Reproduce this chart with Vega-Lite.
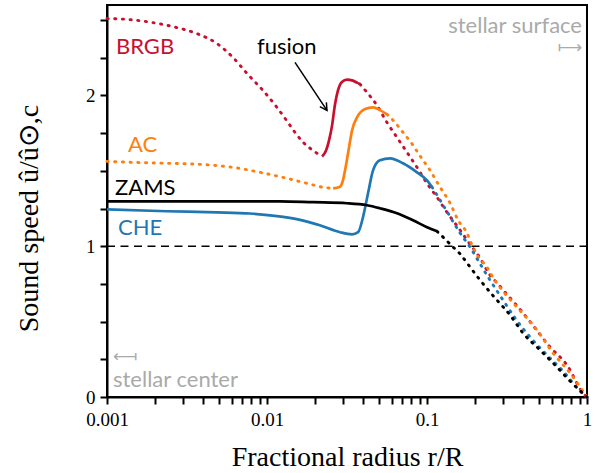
{
  "$schema": "https://vega.github.io/schema/vega-lite/v6.json",
  "width": 480,
  "height": 392,
  "autosize": {"type": "none"},
  "padding": {"left": 107, "top": 5, "right": 8, "bottom": 76},
  "background": "white",
  "config": {
    "view": {"stroke": "black", "strokeWidth": 2}
  },
  "datasets": {
    "curves": [
      {"series": "BRGB", "seg": "BRGB1", "part": "B", "x": 0.001, "y": 2.51},
      {"series": "BRGB", "seg": "BRGB1", "part": "B", "x": 0.00139, "y": 2.503},
      {"series": "BRGB", "seg": "BRGB1", "part": "B", "x": 0.00194, "y": 2.483},
      {"series": "BRGB", "seg": "BRGB1", "part": "B", "x": 0.00274, "y": 2.45},
      {"series": "BRGB", "seg": "BRGB1", "part": "B", "x": 0.00365, "y": 2.41},
      {"series": "BRGB", "seg": "BRGB1", "part": "B", "x": 0.00487, "y": 2.344},
      {"series": "BRGB", "seg": "BRGB1", "part": "B", "x": 0.00613, "y": 2.252},
      {"series": "BRGB", "seg": "BRGB1", "part": "B", "x": 0.0075, "y": 2.146},
      {"series": "BRGB", "seg": "BRGB1", "part": "B", "x": 0.00944, "y": 2.033},
      {"series": "BRGB", "seg": "BRGB1", "part": "B", "x": 0.01155, "y": 1.92},
      {"series": "BRGB", "seg": "BRGB1", "part": "B", "x": 0.01334, "y": 1.83},
      {"series": "BRGB", "seg": "BRGB1", "part": "B", "x": 0.01496, "y": 1.755},
      {"series": "BRGB", "seg": "BRGB1", "part": "B", "x": 0.0168, "y": 1.69},
      {"series": "BRGB", "seg": "BRGB1", "part": "B", "x": 0.0191, "y": 1.64},
      {"series": "BRGB", "seg": "BRGB1", "part": "B", "x": 0.0221, "y": 1.595},
      {"series": "BRGB", "seg": "BRGB2", "part": "A", "x": 0.0221, "y": 1.595},
      {"series": "BRGB", "seg": "BRGB2", "part": "A", "x": 0.0234, "y": 1.635},
      {"series": "BRGB", "seg": "BRGB2", "part": "A", "x": 0.0244, "y": 1.7},
      {"series": "BRGB", "seg": "BRGB2", "part": "A", "x": 0.0255, "y": 1.8},
      {"series": "BRGB", "seg": "BRGB2", "part": "A", "x": 0.0266, "y": 1.94},
      {"series": "BRGB", "seg": "BRGB2", "part": "A", "x": 0.0278, "y": 2.035},
      {"series": "BRGB", "seg": "BRGB2", "part": "A", "x": 0.0294, "y": 2.09},
      {"series": "BRGB", "seg": "BRGB2", "part": "A", "x": 0.0316, "y": 2.105},
      {"series": "BRGB", "seg": "BRGB2", "part": "A", "x": 0.034, "y": 2.1},
      {"series": "BRGB", "seg": "BRGB2", "part": "A", "x": 0.0365, "y": 2.085},
      {"series": "BRGB", "seg": "BRGB2", "part": "A", "x": 0.0381, "y": 2.075},
      {"series": "BRGB", "seg": "BRGB3", "part": "B", "x": 0.0381, "y": 2.075},
      {"series": "BRGB", "seg": "BRGB3", "part": "B", "x": 0.0422, "y": 2.02},
      {"series": "BRGB", "seg": "BRGB3", "part": "B", "x": 0.0487, "y": 1.934},
      {"series": "BRGB", "seg": "BRGB3", "part": "B", "x": 0.0562, "y": 1.821},
      {"series": "BRGB", "seg": "BRGB3", "part": "B", "x": 0.0649, "y": 1.722},
      {"series": "BRGB", "seg": "BRGB3", "part": "B", "x": 0.075, "y": 1.623},
      {"series": "BRGB", "seg": "BRGB3", "part": "B", "x": 0.0866, "y": 1.523},
      {"series": "BRGB", "seg": "BRGB3", "part": "B", "x": 0.1, "y": 1.417},
      {"series": "BRGB", "seg": "BRGB3", "part": "B", "x": 0.1155, "y": 1.325},
      {"series": "BRGB", "seg": "BRGB3", "part": "B", "x": 0.1334, "y": 1.225},
      {"series": "BRGB", "seg": "BRGB3", "part": "B", "x": 0.1608, "y": 1.108},
      {"series": "BRGB", "seg": "BRGB3", "part": "B", "x": 0.1778, "y": 1.041},
      {"series": "BRGB", "seg": "BRGB3", "part": "B", "x": 0.2144, "y": 0.922},
      {"series": "BRGB", "seg": "BRGB3", "part": "B", "x": 0.2475, "y": 0.809},
      {"series": "BRGB", "seg": "BRGB3", "part": "B", "x": 0.2779, "y": 0.75},
      {"series": "BRGB", "seg": "BRGB3", "part": "B", "x": 0.3162, "y": 0.68},
      {"series": "BRGB", "seg": "BRGB3", "part": "B", "x": 0.3652, "y": 0.605},
      {"series": "BRGB", "seg": "BRGB3", "part": "B", "x": 0.4403, "y": 0.5},
      {"series": "BRGB", "seg": "BRGB3", "part": "B", "x": 0.5872, "y": 0.332},
      {"series": "BRGB", "seg": "BRGB3", "part": "B", "x": 0.7499, "y": 0.212},
      {"series": "BRGB", "seg": "BRGB3", "part": "B", "x": 0.9441, "y": 0.027},
      {"series": "BRGB", "seg": "BRGB3", "part": "B", "x": 1, "y": 0},

      {"series": "AC", "seg": "AC1", "part": "B", "x": 0.001, "y": 1.563},
      {"series": "AC", "seg": "AC1", "part": "B", "x": 0.001454, "y": 1.556},
      {"series": "AC", "seg": "AC1", "part": "B", "x": 0.00237, "y": 1.55},
      {"series": "AC", "seg": "AC1", "part": "B", "x": 0.00381, "y": 1.543},
      {"series": "AC", "seg": "AC1", "part": "B", "x": 0.00613, "y": 1.523},
      {"series": "AC", "seg": "AC1", "part": "B", "x": 0.00904, "y": 1.49},
      {"series": "AC", "seg": "AC1", "part": "B", "x": 0.01334, "y": 1.45},
      {"series": "AC", "seg": "AC1", "part": "B", "x": 0.0178, "y": 1.417},
      {"series": "AC", "seg": "AC1", "part": "B", "x": 0.0224, "y": 1.391},
      {"series": "AC", "seg": "AC1", "part": "B", "x": 0.0259, "y": 1.384},
      {"series": "AC", "seg": "AC2", "part": "A", "x": 0.0259, "y": 1.384},
      {"series": "AC", "seg": "AC2", "part": "A", "x": 0.0286, "y": 1.395},
      {"series": "AC", "seg": "AC2", "part": "A", "x": 0.0297, "y": 1.43},
      {"series": "AC", "seg": "AC2", "part": "A", "x": 0.0307, "y": 1.5},
      {"series": "AC", "seg": "AC2", "part": "A", "x": 0.0321, "y": 1.616},
      {"series": "AC", "seg": "AC2", "part": "A", "x": 0.034, "y": 1.768},
      {"series": "AC", "seg": "AC2", "part": "A", "x": 0.0365, "y": 1.854},
      {"series": "AC", "seg": "AC2", "part": "A", "x": 0.041, "y": 1.91},
      {"series": "AC", "seg": "AC2", "part": "A", "x": 0.046, "y": 1.921},
      {"series": "AC", "seg": "AC2", "part": "A", "x": 0.0508, "y": 1.903},
      {"series": "AC", "seg": "AC2", "part": "A", "x": 0.0562, "y": 1.875},
      {"series": "AC", "seg": "AC3", "part": "B", "x": 0.0562, "y": 1.875},
      {"series": "AC", "seg": "AC3", "part": "B", "x": 0.0631, "y": 1.821},
      {"series": "AC", "seg": "AC3", "part": "B", "x": 0.0708, "y": 1.755},
      {"series": "AC", "seg": "AC3", "part": "B", "x": 0.0818, "y": 1.67},
      {"series": "AC", "seg": "AC3", "part": "B", "x": 0.0904, "y": 1.6},
      {"series": "AC", "seg": "AC3", "part": "B", "x": 0.1045, "y": 1.503},
      {"series": "AC", "seg": "AC3", "part": "B", "x": 0.1206, "y": 1.393},
      {"series": "AC", "seg": "AC3", "part": "B", "x": 0.1392, "y": 1.287},
      {"series": "AC", "seg": "AC3", "part": "B", "x": 0.1562, "y": 1.174},
      {"series": "AC", "seg": "AC3", "part": "B", "x": 0.1778, "y": 1.088},
      {"series": "AC", "seg": "AC3", "part": "B", "x": 0.1911, "y": 1.008},
      {"series": "AC", "seg": "AC3", "part": "B", "x": 0.2054, "y": 0.942},
      {"series": "AC", "seg": "AC3", "part": "B", "x": 0.2371, "y": 0.862},
      {"series": "AC", "seg": "AC3", "part": "B", "x": 0.2622, "y": 0.782},
      {"series": "AC", "seg": "AC3", "part": "B", "x": 0.2943, "y": 0.71},
      {"series": "AC", "seg": "AC3", "part": "B", "x": 0.3548, "y": 0.61},
      {"series": "AC", "seg": "AC3", "part": "B", "x": 0.487, "y": 0.444},
      {"series": "AC", "seg": "AC3", "part": "B", "x": 0.6131, "y": 0.292},
      {"series": "AC", "seg": "AC3", "part": "B", "x": 0.783, "y": 0.159},
      {"series": "AC", "seg": "AC3", "part": "B", "x": 1, "y": 0},

      {"series": "CHE", "seg": "CHE1", "part": "A", "x": 0.001, "y": 1.245},
      {"series": "CHE", "seg": "CHE1", "part": "A", "x": 0.00237, "y": 1.232},
      {"series": "CHE", "seg": "CHE1", "part": "A", "x": 0.00487, "y": 1.225},
      {"series": "CHE", "seg": "CHE1", "part": "A", "x": 0.00783, "y": 1.217},
      {"series": "CHE", "seg": "CHE1", "part": "A", "x": 0.0126, "y": 1.195},
      {"series": "CHE", "seg": "CHE1", "part": "A", "x": 0.0161, "y": 1.175},
      {"series": "CHE", "seg": "CHE1", "part": "A", "x": 0.0214, "y": 1.139},
      {"series": "CHE", "seg": "CHE1", "part": "A", "x": 0.0286, "y": 1.093},
      {"series": "CHE", "seg": "CHE1", "part": "A", "x": 0.034, "y": 1.079},
      {"series": "CHE", "seg": "CHE1", "part": "A", "x": 0.0371, "y": 1.093},
      {"series": "CHE", "seg": "CHE1", "part": "A", "x": 0.0398, "y": 1.192},
      {"series": "CHE", "seg": "CHE1", "part": "A", "x": 0.0428, "y": 1.351},
      {"series": "CHE", "seg": "CHE1", "part": "A", "x": 0.046, "y": 1.503},
      {"series": "CHE", "seg": "CHE1", "part": "A", "x": 0.0508, "y": 1.57},
      {"series": "CHE", "seg": "CHE1", "part": "A", "x": 0.0588, "y": 1.583},
      {"series": "CHE", "seg": "CHE1", "part": "A", "x": 0.0708, "y": 1.55},
      {"series": "CHE", "seg": "CHE1", "part": "A", "x": 0.0866, "y": 1.49},
      {"series": "CHE", "seg": "CHE1", "part": "A", "x": 0.1, "y": 1.437},
      {"series": "CHE", "seg": "CHE1", "part": "A", "x": 0.1075, "y": 1.393},
      {"series": "CHE", "seg": "CHE2", "part": "B", "x": 0.1075, "y": 1.393},
      {"series": "CHE", "seg": "CHE2", "part": "B", "x": 0.1352, "y": 1.22},
      {"series": "CHE", "seg": "CHE2", "part": "B", "x": 0.1608, "y": 1.088},
      {"series": "CHE", "seg": "CHE2", "part": "B", "x": 0.1857, "y": 0.995},
      {"series": "CHE", "seg": "CHE2", "part": "B", "x": 0.2207, "y": 0.862},
      {"series": "CHE", "seg": "CHE2", "part": "B", "x": 0.2475, "y": 0.776},
      {"series": "CHE", "seg": "CHE2", "part": "B", "x": 0.2985, "y": 0.643},
      {"series": "CHE", "seg": "CHE2", "part": "B", "x": 0.3548, "y": 0.524},
      {"series": "CHE", "seg": "CHE2", "part": "B", "x": 0.4403, "y": 0.398},
      {"series": "CHE", "seg": "CHE2", "part": "B", "x": 0.5623, "y": 0.279},
      {"series": "CHE", "seg": "CHE2", "part": "B", "x": 0.7079, "y": 0.172},
      {"series": "CHE", "seg": "CHE2", "part": "B", "x": 0.9306, "y": 0.027},
      {"series": "CHE", "seg": "CHE2", "part": "B", "x": 1, "y": 0},

      {"series": "ZAMS", "seg": "ZAMS1", "part": "A", "x": 0.001, "y": 1.298},
      {"series": "ZAMS", "seg": "ZAMS1", "part": "A", "x": 0.01205, "y": 1.298},
      {"series": "ZAMS", "seg": "ZAMS1", "part": "A", "x": 0.0194, "y": 1.292},
      {"series": "ZAMS", "seg": "ZAMS1", "part": "A", "x": 0.0316, "y": 1.285},
      {"series": "ZAMS", "seg": "ZAMS1", "part": "A", "x": 0.0422, "y": 1.272},
      {"series": "ZAMS", "seg": "ZAMS1", "part": "A", "x": 0.0508, "y": 1.252},
      {"series": "ZAMS", "seg": "ZAMS1", "part": "A", "x": 0.0649, "y": 1.219},
      {"series": "ZAMS", "seg": "ZAMS1", "part": "A", "x": 0.0818, "y": 1.172},
      {"series": "ZAMS", "seg": "ZAMS1", "part": "A", "x": 0.1, "y": 1.126},
      {"series": "ZAMS", "seg": "ZAMS1", "part": "A", "x": 0.1155, "y": 1.099},
      {"series": "ZAMS", "seg": "ZAMS2", "part": "B", "x": 0.1155, "y": 1.099},
      {"series": "ZAMS", "seg": "ZAMS2", "part": "B", "x": 0.1259, "y": 1.061},
      {"series": "ZAMS", "seg": "ZAMS2", "part": "B", "x": 0.1454, "y": 0.995},
      {"series": "ZAMS", "seg": "ZAMS2", "part": "B", "x": 0.1608, "y": 0.95},
      {"series": "ZAMS", "seg": "ZAMS2", "part": "B", "x": 0.1778, "y": 0.889},
      {"series": "ZAMS", "seg": "ZAMS2", "part": "B", "x": 0.2144, "y": 0.776},
      {"series": "ZAMS", "seg": "ZAMS2", "part": "B", "x": 0.2661, "y": 0.657},
      {"series": "ZAMS", "seg": "ZAMS2", "part": "B", "x": 0.3302, "y": 0.544},
      {"series": "ZAMS", "seg": "ZAMS2", "part": "B", "x": 0.3981, "y": 0.424},
      {"series": "ZAMS", "seg": "ZAMS2", "part": "B", "x": 0.5083, "y": 0.312},
      {"series": "ZAMS", "seg": "ZAMS2", "part": "B", "x": 0.631, "y": 0.212},
      {"series": "ZAMS", "seg": "ZAMS2", "part": "B", "x": 0.783, "y": 0.106},
      {"series": "ZAMS", "seg": "ZAMS2", "part": "B", "x": 1, "y": 0}
    ],
    "labels": [
      {"x": 0.001138, "y": 2.278, "label": "BRGB", "series": "BRGB"},
      {"x": 0.001353, "y": 1.625, "label": "AC", "series": "AC"},
      {"x": 0.001122, "y": 1.34, "label": "ZAMS", "series": "ZAMS"},
      {"x": 0.001172, "y": 1.074, "label": "CHE", "series": "CHE"},
      {"x": 0.00866, "y": 2.275, "label": "fusion", "series": "note"},
      {"x": 0.00109, "y": 0.066, "label": "stellar center", "series": "hint"}
    ],
    "rightlabels": [
      {"x": 0.9306, "y": 2.414, "label": "stellar surface", "series": "hint"}
    ],
    "arrowsR": [
      {"x": 0.9306, "y": 2.315, "label": "⟼", "series": "hint"}
    ],
    "arrowsL": [
      {"x": 0.00109, "y": 0.262, "label": "⟻", "series": "hint"}
    ],
    "pointer": [
      {"x": 0.01496, "y": 2.219, "x2": 0.0237, "y2": 1.901, "series": "note"}
    ],
    "pointerTip": [
      {"x": 0.0237, "y": 1.901, "series": "note"}
    ],
    "unity": [
      {"x": 0.001, "x2": 1, "y": 1, "series": "note"}
    ]
  },
  "encoding": {
    "x": {
      "field": "x", "type": "quantitative",
      "scale": {"type": "log", "domain": [0.001, 1], "nice": false},
      "axis": {
        "title": "Fractional radius r/R",
        "values": [0.001,0.002,0.003,0.004,0.005,0.006,0.007,0.008,0.009,0.01,0.02,0.03,0.04,0.05,0.06,0.07,0.08,0.09,0.1,0.2,0.3,0.4,0.5,0.6,0.7,0.8,0.9,1],
        "format": "~g",
        "labelExpr": "(datum.value==0.001||datum.value==0.01||datum.value==0.1||datum.value==1)?datum.label:''",
        "tickSize": 7,
        "tickWidth": 2,
        "tickColor": "#000000",
        "grid": false,
        "domainColor": "black", "domainWidth": 2,
        "labelFont": "Liberation Serif", "labelFontSize": 19, "labelColor": "black",
        "labelPadding": 6, "labelOverlap": false, "labelFlush": false,
        "titleFont": "Liberation Serif", "titleFontSize": 28, "titleFontWeight": "normal", "titleColor": "black",
        "titlePadding": 14
      }
    },
    "y": {
      "field": "y", "type": "quantitative",
      "scale": {"domain": [0, 2.6], "nice": false, "zero": false},
      "axis": {
        "title": "Sound speed û/û⊙,c",
        "values": [0,0.25,0.5,0.75,1,1.25,1.5,1.75,2,2.25,2.5],
        "format": "~g",
        "labelExpr": "datum.value % 1 == 0 ? datum.label : ''",
        "tickSize": 7,
        "tickWidth": 2,
        "tickColor": "#000000",
        "grid": false,
        "domainColor": "black", "domainWidth": 2,
        "labelFont": "Liberation Serif", "labelFontSize": 19, "labelColor": "black",
        "labelPadding": 5, "labelOverlap": false, "labelFlush": false,
        "titleFont": "Liberation Serif", "titleFontSize": 28, "titleFontWeight": "normal", "titleColor": "black",
        "titlePadding": 42,
        "titleY": 213
      }
    },
    "color": {
      "field": "series", "type": "nominal",
      "scale": {"domain": ["BRGB", "AC", "ZAMS", "CHE", "note", "hint"], "range": ["#c8102e", "#ff7f0e", "#000000", "#1f77b4", "#000000", "#aaaaaa"]},
      "legend": null
    }
  },
  "layer": [
    {
      "data": {"name": "unity"},
      "mark": {"type": "rule", "strokeDash": [8, 5.5], "strokeWidth": 1.6},
      "encoding": {"x2": {"field": "x2"}}
    },
    {
      "data": {"name": "curves"},
      "transform": [{"filter": "datum.part == 'B'"}],
      "mark": {"type": "line", "strokeDash": [1.2, 6.5], "strokeCap": "round", "strokeWidth": 2.9, "interpolate": "monotone"},
      "encoding": {"detail": {"field": "seg"}}
    },
    {
      "data": {"name": "curves"},
      "transform": [{"filter": "datum.part == 'A'"}],
      "mark": {"type": "line", "strokeWidth": 2.7, "interpolate": "monotone"},
      "encoding": {"detail": {"field": "seg"}}
    },
    {
      "data": {"name": "pointer"},
      "mark": {"type": "rule", "strokeWidth": 1.5},
      "encoding": {"x2": {"field": "x2"}, "y2": {"field": "y2"}}
    },
    {
      "data": {"name": "pointerTip"},
      "mark": {"type": "point", "shape": "M -0.55 -1 L 0 0 L 0.55 -1", "filled": false, "strokeWidth": 1.5, "size": 200, "angle": -33, "opacity": 1}
    },
    {
      "data": {"name": "labels"},
      "mark": {"type": "text", "align": "left", "baseline": "alphabetic", "font": "Lato", "fontSize": 22},
      "encoding": {"text": {"field": "label"}}
    },
    {
      "data": {"name": "rightlabels"},
      "mark": {"type": "text", "align": "right", "baseline": "alphabetic", "font": "Lato", "fontSize": 22},
      "encoding": {"text": {"field": "label"}}
    },
    {
      "data": {"name": "arrowsR"},
      "mark": {"type": "text", "align": "right", "baseline": "middle", "font": "DejaVu Sans", "fontSize": 17},
      "encoding": {"text": {"field": "label"}}
    },
    {
      "data": {"name": "arrowsL"},
      "mark": {"type": "text", "align": "left", "baseline": "middle", "font": "DejaVu Sans", "fontSize": 17},
      "encoding": {"text": {"field": "label"}}
    }
  ]
}
